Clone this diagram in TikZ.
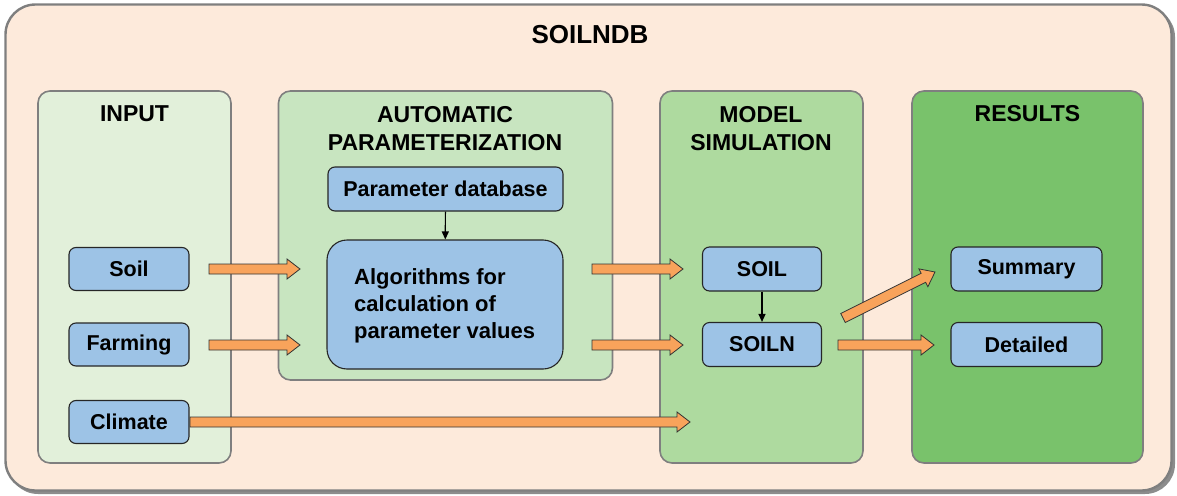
\documentclass[tikz,border=0pt]{standalone}
\usepackage{fontspec}
\setmainfont{Liberation Sans}
\usetikzlibrary{calc,arrows.meta}
\definecolor{outerfill}{HTML}{FDEADB}
\definecolor{outerdraw}{HTML}{7F7F7F}
\definecolor{inputfill}{HTML}{E2F0DA}
\definecolor{paramfill}{HTML}{C8E5C0}
\definecolor{modelfill}{HTML}{AEDA9F}
\definecolor{resfill}{HTML}{79C26B}
\definecolor{bluefill}{HTML}{9DC3E6}
\definecolor{orangefill}{HTML}{F8A35B}
\tikzset{
  panel/.style={draw=outerdraw, line width=1.6pt, rounded corners=12pt, inner sep=0pt},
  heading/.style={font=\bfseries\fontsize{23}{28}\selectfont, align=center, inner sep=0pt},
  bluebox/.style={draw=black!85, line width=1.1pt, fill=bluefill, rounded corners=7pt,
     font=\bfseries\fontsize{21.5}{26}\selectfont, inner sep=0pt},
  blockarr/.style={draw=black!80, line width=0.8pt, fill=orangefill, line join=miter},
  thinarr/.style={line width=1.2pt, -{Triangle[length=8pt,width=7pt]}},
}
\newcommand{\bigarrow}[2]{%
  \coordinate (h) at ($(#2)!13pt!(#1)$);
  \draw[blockarr] ($(#1)!5pt!90:(#2)$) -- ($(h)!5pt!90:(#2)$) -- ($(h)!10pt!90:(#2)$)
    -- (#2) -- ($(h)!10pt!-90:(#2)$) -- ($(h)!5pt!-90:(#2)$) -- ($(#1)!5pt!-90:(#2)$) -- cycle;}
\begin{document}
\begin{tikzpicture}[x=1pt,y=-1pt]
\useasboundingbox (0,0) rectangle (1177,495);
% outer
\fill[black!45, rounded corners=30pt] (8,7) rectangle (1175,494);
\node[panel, fill=outerfill, line width=2.4pt, rounded corners=30pt,
  minimum width=1166, minimum height=486] (outer) at (588.5,247.5) {};
\node[heading, font=\bfseries\fontsize{26}{30}\selectfont] (title) at (590,35) {SOILNDB};
% panels
\node[panel, fill=inputfill, minimum width=193, minimum height=372] (inp) at (134.5,277) {};
\node[panel, fill=paramfill, minimum width=334, minimum height=289] (par) at (445.5,235.5) {};
\node[panel, fill=modelfill, minimum width=203, minimum height=372] (mod) at (761.5,277) {};
\node[panel, fill=resfill, minimum width=231, minimum height=372] (res) at (1027.5,277) {};
\node[heading] (tinp) at (134.5,114) {INPUT};
\node[heading] (tpar) at (445,129) {AUTOMATIC\\PARAMETERIZATION};
\node[heading] (tmod) at (761,129) {MODEL\\SIMULATION};
\node[heading] (tres) at (1027.5,114) {RESULTS};
% blue boxes
\node[bluebox, minimum width=120, minimum height=43] (soil) at (129,269) {Soil};
\node[bluebox, minimum width=120, minimum height=43] (farm) at (129,344.5) {Farming};
\node[bluebox, minimum width=120, minimum height=43] (clim) at (129,422) {Climate};
\node[bluebox, minimum width=235, minimum height=44] (pdb) at (445.5,189) {Parameter database};
\node[bluebox, rounded corners=20pt, minimum width=236, minimum height=129] (alg) at (445,304.5) {};
\node[font=\bfseries\fontsize{22}{27}\selectfont, align=left, anchor=west, inner sep=0pt]
  (algt) at (354,306) {Algorithms for\\calculation of\\parameter values};
\node[bluebox, minimum width=119, minimum height=44] (soilm) at (762,269) {SOIL};
\node[bluebox, minimum width=119, minimum height=44] (soiln) at (762,344.5) {SOILN};
\node[bluebox, minimum width=151, minimum height=44] (summ) at (1026.5,269) {Summary};
\node[bluebox, minimum width=151, minimum height=44] (det) at (1026.5,344.5) {Detailed};
% thin arrows
\draw[thinarr] (pdb) -- (alg);
\draw[thinarr] (soilm) -- (soiln);
% block arrows
\coordinate (a1s) at (209,269); \coordinate (a1e) at (300,269);
\coordinate (a2s) at (209,345); \coordinate (a2e) at (300,345);
\coordinate (a3s) at (190,422); \coordinate (a3e) at (690,422);
\coordinate (a4s) at (592,269); \coordinate (a4e) at (683,269);
\coordinate (a5s) at (592,345); \coordinate (a5e) at (683,345);
\coordinate (a6s) at (838,345); \coordinate (a6e) at (934,345);
\coordinate (a7s) at (843,318); \coordinate (a7e) at (935,272);
\bigarrow{a1s}{a1e}
\bigarrow{a2s}{a2e}
\bigarrow{a3s}{a3e}
\bigarrow{a4s}{a4e}
\bigarrow{a5s}{a5e}
\bigarrow{a6s}{a6e}
\bigarrow{a7s}{a7e}
\end{tikzpicture}
\end{document}
